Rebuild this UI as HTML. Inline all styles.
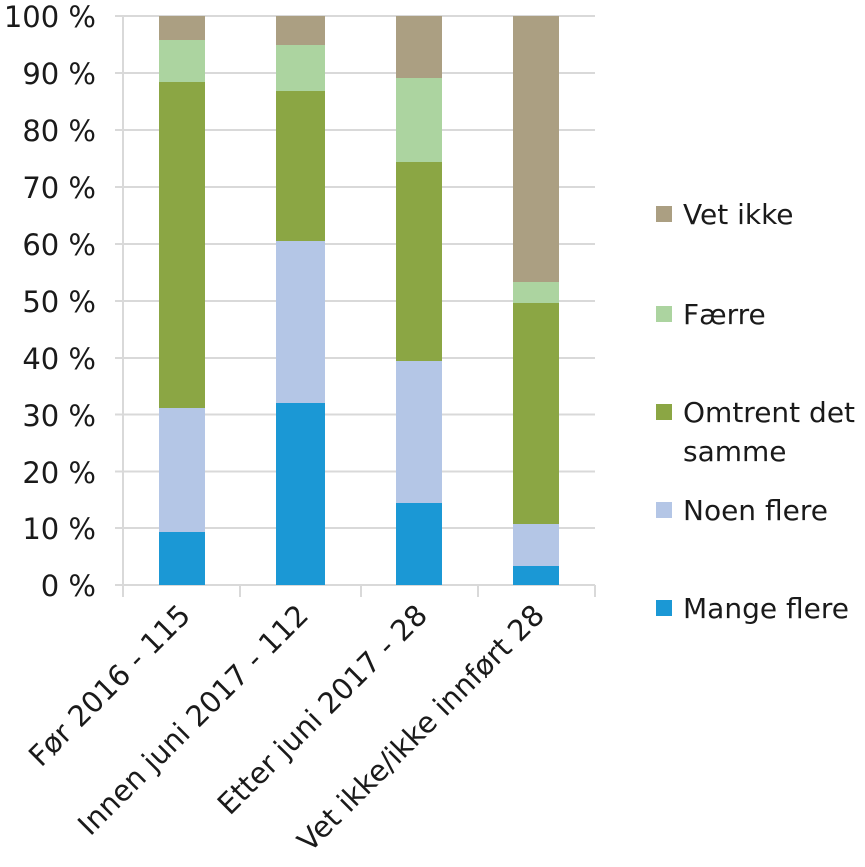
<!DOCTYPE html>
<html><head><meta charset="utf-8"><style>
body{margin:0;background:#fff;}
svg{display:block;font-family:"DejaVu Sans","Liberation Sans",sans-serif;}
</style></head><body>
<svg width="865" height="867" viewBox="0 0 865 867">
<g stroke="#d9d9d9" stroke-width="2">
<line x1="115" x2="595" y1="16" y2="16"/><line x1="115" x2="595" y1="73" y2="73"/>
<line x1="115" x2="595" y1="130" y2="130"/><line x1="115" x2="595" y1="187" y2="187"/>
<line x1="115" x2="595" y1="244" y2="244"/><line x1="115" x2="595" y1="301" y2="301"/>
<line x1="115" x2="595" y1="358" y2="358"/><line x1="115" x2="595" y1="414.5" y2="414.5"/>
<line x1="115" x2="595" y1="471.5" y2="471.5"/><line x1="115" x2="595" y1="528" y2="528"/>
<line x1="115" x2="595" y1="585" y2="585"/>
<line x1="123" x2="123" y1="16" y2="597"/>
<line x1="240" x2="240" y1="585" y2="597"/><line x1="361" x2="361" y1="585" y2="597"/>
<line x1="478" x2="478" y1="585" y2="597"/><line x1="595" x2="595" y1="585" y2="597"/>
</g>
<g>
<rect x="159" y="532" width="46" height="53" fill="#1b98d5"/>
<rect x="159" y="408" width="46" height="124" fill="#b4c6e6"/>
<rect x="159" y="82" width="46" height="326" fill="#8ba644"/>
<rect x="159" y="40" width="46" height="42" fill="#acd4a0"/>
<rect x="159" y="16" width="46" height="24" fill="#ab9f82"/>

<rect x="276" y="403" width="49" height="182" fill="#1b98d5"/>
<rect x="276" y="241" width="49" height="162" fill="#b4c6e6"/>
<rect x="276" y="91" width="49" height="150" fill="#8ba644"/>
<rect x="276" y="45" width="49" height="46" fill="#acd4a0"/>
<rect x="276" y="16" width="49" height="29" fill="#ab9f82"/>

<rect x="396" y="503" width="46" height="82" fill="#1b98d5"/>
<rect x="396" y="361" width="46" height="142" fill="#b4c6e6"/>
<rect x="396" y="162" width="46" height="199" fill="#8ba644"/>
<rect x="396" y="78" width="46" height="84" fill="#acd4a0"/>
<rect x="396" y="16" width="46" height="62" fill="#ab9f82"/>

<rect x="513" y="566" width="46" height="19" fill="#1b98d5"/>
<rect x="513" y="524" width="46" height="42" fill="#b4c6e6"/>
<rect x="513" y="303" width="46" height="221" fill="#8ba644"/>
<rect x="513" y="282" width="46" height="21" fill="#acd4a0"/>
<rect x="513" y="16" width="46" height="266" fill="#ab9f82"/>
</g>
<g fill="#1a1a1a" font-size="29" text-anchor="end">
<text x="96" y="27">100 %</text><text x="96" y="84">90 %</text>
<text x="96" y="141">80 %</text><text x="96" y="198">70 %</text>
<text x="96" y="255">60 %</text><text x="96" y="312">50 %</text>
<text x="96" y="369">40 %</text><text x="96" y="426">30 %</text>
<text x="96" y="483">20 %</text><text x="96" y="539">10 %</text>
<text x="96" y="596">0 %</text>
<text transform="translate(192,617) rotate(-45)">Før 2016 - 115</text>
<text transform="translate(310,617) rotate(-45)">Innen juni 2017 - 112</text>
<text transform="translate(429,617) rotate(-45)">Etter juni 2017 - 28</text>
<text transform="translate(546,617) rotate(-45)">Vet ikke/ikke innført 28</text>
</g>
<g>
<rect x="656" y="206" width="16" height="16" fill="#ab9f82"/>
<rect x="656" y="306" width="16" height="16" fill="#acd4a0"/>
<rect x="656" y="404" width="16" height="16" fill="#8ba644"/>
<rect x="656" y="502" width="16" height="16" fill="#b4c6e6"/>
<rect x="656" y="600" width="16" height="16" fill="#1b98d5"/>
</g>
<g fill="#1a1a1a" font-size="28">
<text x="683" y="224">Vet ikke</text>
<text x="683" y="324">Færre</text>
<text x="683" y="422">Omtrent det</text>
<text x="683" y="461">samme</text>
<text x="683" y="520">Noen flere</text>
<text x="683" y="618">Mange flere</text>
</g>
</svg>
</body></html>
